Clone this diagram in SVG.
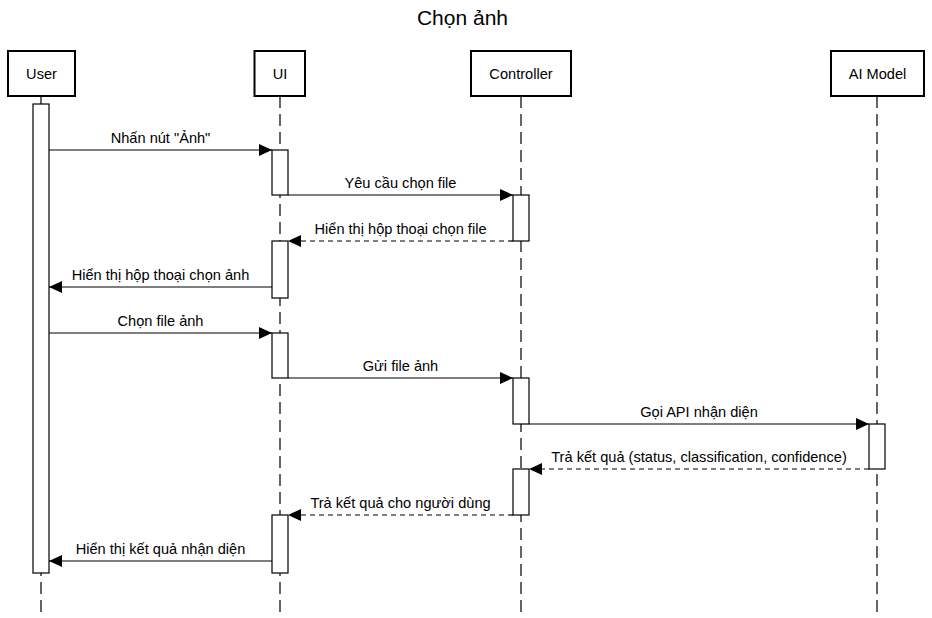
<svg xmlns="http://www.w3.org/2000/svg" width="932" height="618" viewBox="0 0 932 618">
<style>
text{font-family:"Liberation Sans",Arial,sans-serif;fill:#000}
.title{font-size:21px;text-anchor:middle}
.lbl{font-size:14.6px;text-anchor:middle}
.head{fill:#fff;stroke:#000;stroke-width:2}
.life{stroke:#000;stroke-width:1.2;stroke-dasharray:12 6;fill:none}
.act{fill:#fff;stroke:#000;stroke-width:1.2}
.msg{stroke:#000;stroke-width:1.2;fill:none;marker-end:url(#arr)}
.ret{stroke-dasharray:5 4}
</style>
<defs>
<marker id="arr" markerUnits="userSpaceOnUse" markerWidth="14" markerHeight="13" refX="13" refY="6" orient="auto">
<path d="M0,0 L13,6 L0,12 z" fill="#000"/>
</marker>
</defs>
<rect width="932" height="618" fill="#fff"/>
<text class="title" x="462.5" y="25">Chọn ảnh</text>

<g id="lifelines">
<line class="life" x1="41" y1="96" x2="41" y2="612"/>
<line class="life" x1="280" y1="96" x2="280" y2="612"/>
<line class="life" x1="521" y1="96" x2="521" y2="612"/>
<line class="life" x1="877" y1="96" x2="877" y2="612"/>
</g>

<g id="user">
<rect class="head" x="8" y="51" width="67" height="45"/>
<text class="lbl" x="41.5" y="79">User</text>
<rect class="act" x="33" y="104" width="16" height="469"/>
</g>
<g id="ui">
<rect class="head" x="254.5" y="51" width="50.5" height="45"/>
<text class="lbl" x="280" y="79">UI</text>
<rect class="act" x="272" y="150" width="16" height="45"/>
<rect class="act" x="272" y="241" width="16" height="57"/>
<rect class="act" x="272" y="333" width="16" height="45"/>
<rect class="act" x="272" y="515" width="16" height="58"/>
</g>
<g id="controller">
<rect class="head" x="471" y="51" width="100" height="45"/>
<text class="lbl" x="521" y="79">Controller</text>
<rect class="act" x="513" y="195" width="16" height="46"/>
<rect class="act" x="513" y="378" width="16" height="46"/>
<rect class="act" x="513" y="469" width="16" height="46"/>
</g>
<g id="aimodel">
<rect class="head" x="831" y="51" width="93" height="45"/>
<text class="lbl" x="877.5" y="79">AI Model</text>
<rect class="act" x="869" y="424" width="16" height="45"/>
</g>

<g id="connectors">
<line class="msg" x1="49" y1="150" x2="272" y2="150"/>
<text class="lbl" x="160.5" y="142.5">Nhấn nút "Ảnh"</text>
<line class="msg" x1="288" y1="195" x2="513" y2="195"/>
<text class="lbl" x="400.5" y="187.5">Yêu cầu chọn file</text>
<line class="msg ret" x1="513" y1="241" x2="288" y2="241"/>
<text class="lbl" x="400.5" y="233.5">Hiển thị hộp thoại chọn file</text>
<line class="msg" x1="272" y1="287" x2="49" y2="287"/>
<text class="lbl" x="160.5" y="279.5">Hiển thị hộp thoại chọn ảnh</text>
<line class="msg" x1="49" y1="333" x2="272" y2="333"/>
<text class="lbl" x="160.5" y="325.5">Chọn file ảnh</text>
<line class="msg" x1="288" y1="378" x2="513" y2="378"/>
<text class="lbl" x="400.5" y="370.5">Gửi file ảnh</text>
<line class="msg" x1="529" y1="424" x2="869" y2="424"/>
<text class="lbl" x="699" y="416.5">Gọi API nhận diện</text>
<line class="msg ret" x1="869" y1="469" x2="529" y2="469"/>
<text class="lbl" x="699" y="461.5">Trả kết quả (status, classification, confidence)</text>
<line class="msg ret" x1="513" y1="515" x2="288" y2="515"/>
<text class="lbl" x="400.5" y="507.5">Trả kết quả cho người dùng</text>
<line class="msg" x1="272" y1="561" x2="49" y2="561"/>
<text class="lbl" x="160.5" y="553.5">Hiển thị kết quả nhận diện</text>
</g>
</svg>
